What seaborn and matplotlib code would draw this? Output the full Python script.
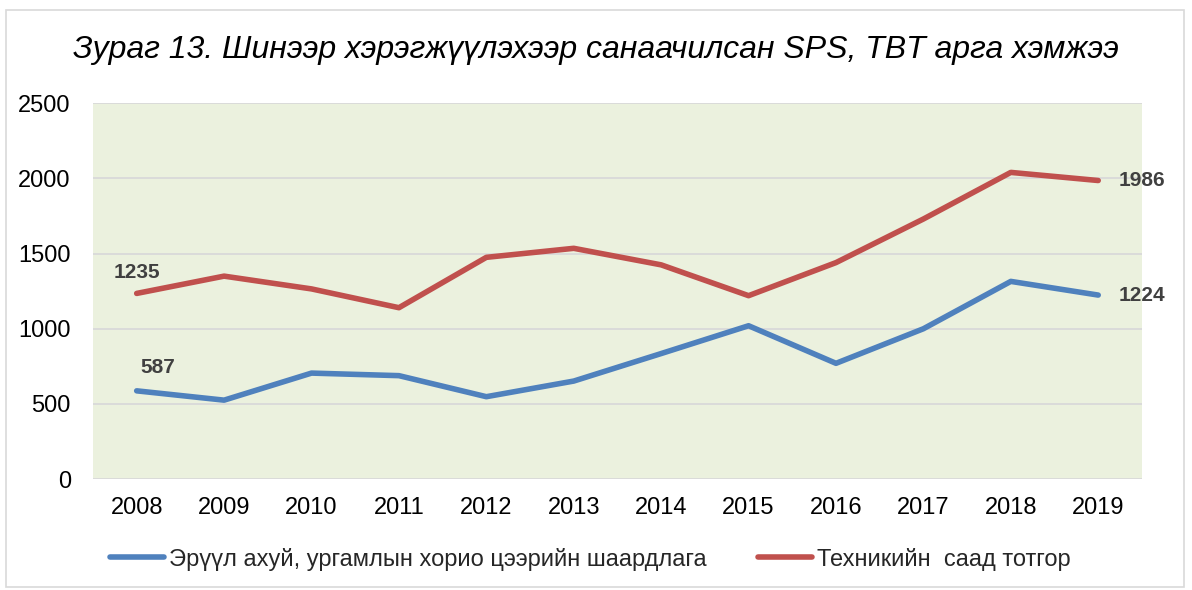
import matplotlib.pyplot as plt
import pandas as pd
import seaborn as sns
from matplotlib.patches import Rectangle

years = [2008, 2009, 2010, 2011, 2012, 2013, 2014, 2015, 2016, 2017, 2018, 2019]
sps = [587, 525, 705, 688, 548, 652, 835, 1020, 770, 1000, 1315, 1224]
tbt = [1235, 1350, 1265, 1140, 1475, 1535, 1425, 1220, 1440, 1730, 2040, 1986]
sps_name = "Эрүүл ахуй, ургамлын хорио цээрийн шаардлага"
tbt_name = "Техникийн  саад тотгор"
title = "Зураг 13. Шинээр хэрэгжүүлэхээр санаачилсан SPS, TBT арга хэмжээ"

BLUE = "#4f81bd"
RED = "#c0504d"
LABEL = "#404040"

sns.set_theme(style="white")
plt.rcParams["font.family"] = ["Liberation Sans", "DejaVu Sans"]

df = pd.DataFrame({"year": years, "value": sps, "series": sps_name})
df = pd.concat([df, pd.DataFrame({"year": years, "value": tbt, "series": tbt_name})])
df["pos"] = df["year"].map({y: i for i, y in enumerate(years)})

fig = plt.figure(figsize=(11.92, 5.90), dpi=100)
ax = fig.add_axes([0.078, 0.188, 0.880, 0.637])
fig.patches.append(Rectangle((0.005, 0.005), 0.988, 0.978, transform=fig.transFigure,
                             fill=False, edgecolor="#d9d9d9", lw=1.2))

ax.set_facecolor("#ebf1de")
sns.lineplot(data=df, x="pos", y="value", hue="series", palette=[BLUE, RED],
             lw=4, ax=ax, solid_capstyle="round", legend=True)

ax.set_xlim(-0.5, len(years) - 0.5)
ax.set_ylim(0, 2500)
ax.set_yticks(range(0, 2501, 500))
ax.set_xticks(range(len(years)))
ax.set_xticklabels(years)
ax.tick_params(labelsize=17, colors="black", length=0, pad=13)
ax.tick_params(axis="y", pad=16)
ax.grid(axis="y", color="#d9d9d9", lw=1.3)
ax.set_axisbelow(True)
for s in ax.spines.values():
    s.set_visible(False)
ax.set_xlabel("")
ax.set_ylabel("")

# data labels
lab = dict(fontsize=15, fontweight="bold", color=LABEL)
ax.annotate(str(tbt[0]), (0, tbt[0]), xytext=(0, 15), textcoords="offset points", ha="center", va="center", **lab)
ax.annotate(str(sps[0]), (0, sps[0]), xytext=(15, 17), textcoords="offset points", ha="center", va="center", **lab)
ax.annotate(str(tbt[-1]), (len(years) - 1, tbt[-1]), xytext=(15, 0), textcoords="offset points", ha="left", va="center", **lab)
ax.annotate(str(sps[-1]), (len(years) - 1, sps[-1]), xytext=(15, 0), textcoords="offset points", ha="left", va="center", **lab)

fig.text(0.5, 0.915, title, ha="center", va="center", fontsize=23, style="italic", color="black")

leg = ax.legend(loc="center", bbox_to_anchor=(0.474, -0.213), ncol=2, frameon=False,
                fontsize=17, handlelength=2.3, handletextpad=0.2, columnspacing=2.2)
for h in leg.get_lines():
    h.set_linewidth(4)
    h.set_solid_capstyle("round")

fig.savefig("out.png", dpi=100, facecolor="white")
